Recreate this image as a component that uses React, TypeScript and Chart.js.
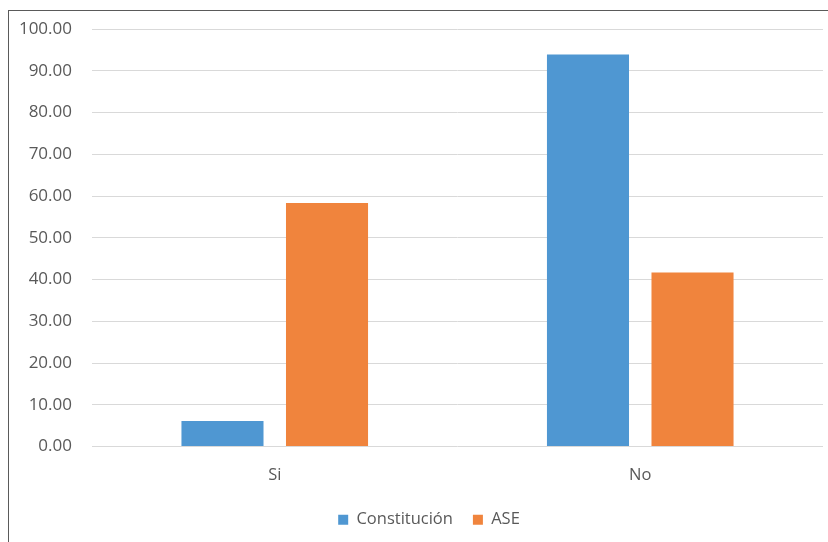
import React, { useEffect, useRef } from "react";
import { Chart, registerables } from "chart.js";

Chart.register(...registerables);

const categories = ["Si", "No"];
const constitucion = [6.1, 93.9];
const ase = [58.3, 41.7];
const seriesNames = ["Constitución", "ASE"];
const yMin = 0;
const yMax = 100;
const yStep = 10;

const FONT = "'Open Sans', 'Noto Sans', sans-serif";
const TEXT = "#595959";

// The original legend is centred on a slightly wider chart frame than the cropped view
const legendShift = {
  id: "legendShift",
  afterLayout(chart: any) {
    const lg = chart.legend;
    if (lg) {
      lg.left += 13;
      lg.right += 13;
    }
  },
};

export default function App() {
  const ref = useRef<HTMLCanvasElement | null>(null);
  useEffect(() => {
    if (!ref.current) return;
    const chart = new Chart(ref.current, {
      type: "bar",
      data: {
        labels: categories,
        datasets: [
          { label: seriesNames[0], data: constitucion, backgroundColor: "#4F97D2", categoryPercentage: 0.572, barPercentage: 0.785 },
          { label: seriesNames[1], data: ase, backgroundColor: "#F0843D", categoryPercentage: 0.572, barPercentage: 0.785 },
        ],
      },
      plugins: [legendShift],
      options: {
        animation: false,
        responsive: false,
        maintainAspectRatio: false,
        layout: { padding: { left: 0, right: 5, top: 18, bottom: 4 } },
        plugins: {
          tooltip: { enabled: false },
          legend: {
            position: "bottom",
            labels: {
              boxWidth: 10,
              boxHeight: 10,
              padding: 20,
              color: TEXT,
              font: { family: FONT, size: 16.5 },
            },
          },
        },
        scales: {
          x: {
            grid: { display: false, drawTicks: false },
            border: { display: false },
            ticks: { color: TEXT, font: { family: FONT, size: 16.5 }, padding: 19 },
            afterFit: (s: any) => { s.height = 45; },
          },
          y: {
            min: yMin,
            max: yMax,
            grid: { color: "#d9d9d9", lineWidth: 1, drawTicks: false },
            border: { display: false },
            ticks: {
              stepSize: yStep,
              color: TEXT,
              padding: 20,
              font: { family: FONT, size: 17 },
              callback: (v: any) => Number(v).toFixed(2),
            },
            afterFit: (s: any) => {
              s.width = 83;
              s.paddingTop = 0;
              s.paddingBottom = 0;
            },
          },
        },
      },
    });
    return () => chart.destroy();
  }, []);
  return (
    <div
      style={{
        position: "fixed",
        left: 8,
        top: 10,
        width: 819,
        height: 531,
        overflow: "hidden",
        borderLeft: "1px solid #5a5a5a",
        borderTop: "1px solid #5a5a5a",
        background: "#fff",
      }}
    >
      <canvas ref={ref} width={819} height={531} style={{ display: "block" }} />
    </div>
  );
}
